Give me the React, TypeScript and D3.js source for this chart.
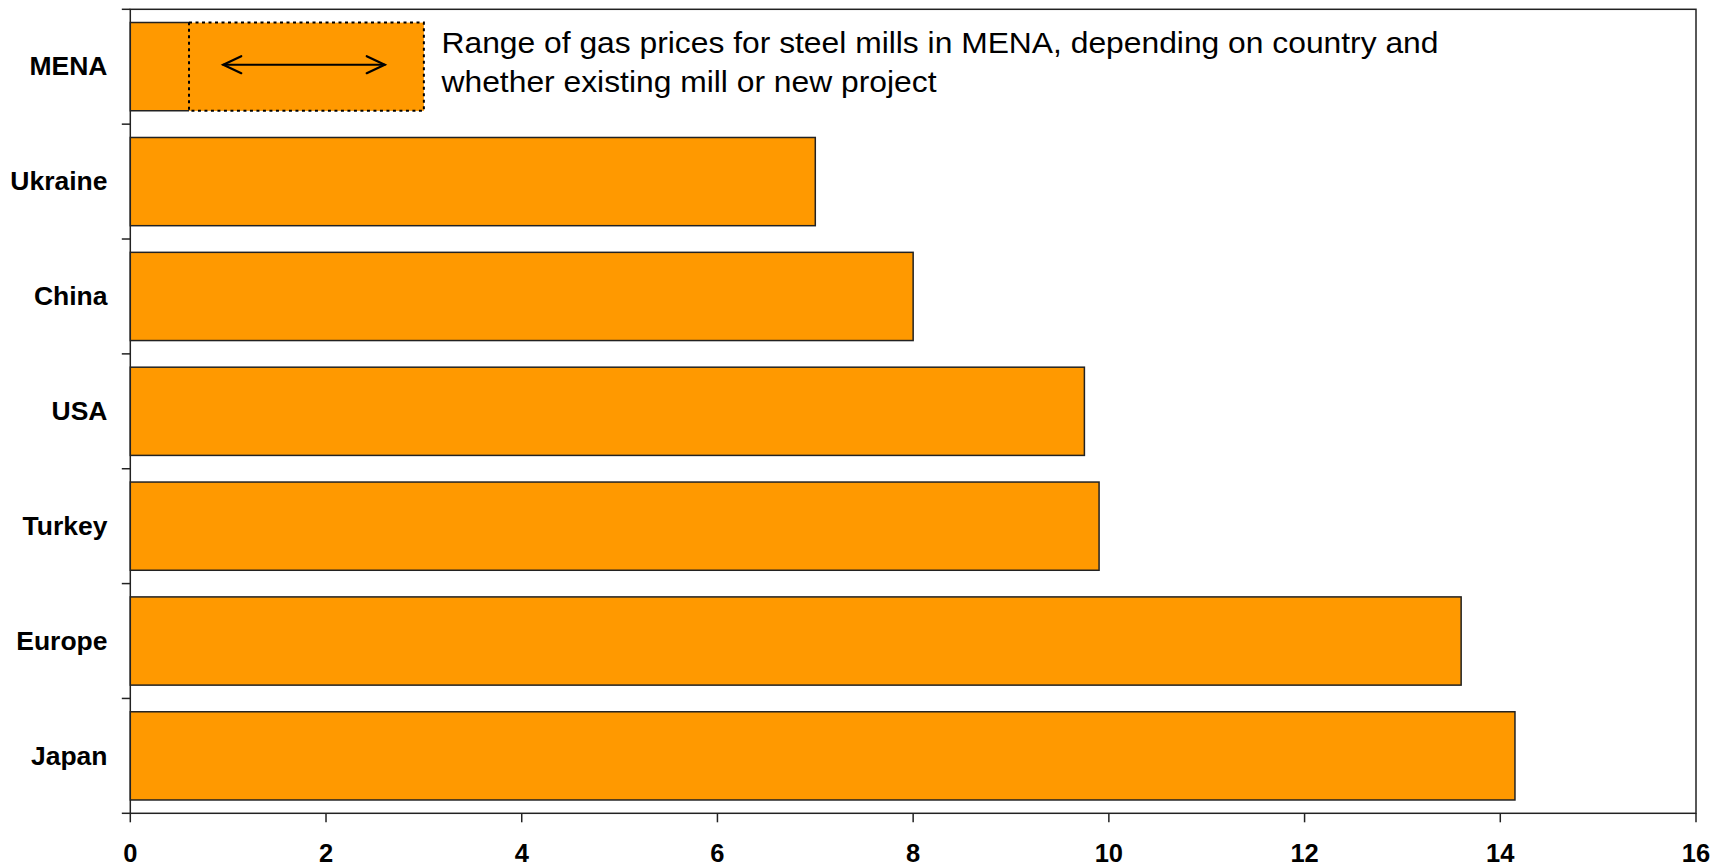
import * as d3 from "d3";

const categories = ["MENA", "Ukraine", "China", "USA", "Turkey", "Europe", "Japan"];
const values = [0.6, 7, 8, 9.75, 9.9, 13.6, 14.15];
// MENA range (dotted box) and the annotation arrow inside it
const menaRange = [0.6, 3.0];
const arrowSpan = [0.95, 2.6];
const xTicks = [0, 2, 4, 6, 8, 10, 12, 14, 16];
const noteLines = [
  "Range of gas prices for steel mills in MENA, depending on country and",
  "whether existing mill or new project",
];
// measured widths of the two note lines in the reference
const noteWidths = [997, 495];

const W = 1723;
const H = 866;
const M = { left: 130.3, right: W - 1696, top: 9.3, bottom: H - 813.3 };
const ORANGE = "#FF9900";
const LINE = "#222";
const FONT = "Arial, 'Liberation Sans', sans-serif";

export default function App() {
  const x = d3.scaleLinear().domain([0, 16]).range([M.left, W - M.right]);
  const y = d3
    .scaleBand<string>()
    .domain(categories)
    .range([M.top, H - M.bottom])
    .paddingInner(0.232)
    .paddingOuter(0.116);
  const step = y.step();
  const bw = y.bandwidth();
  const mY = y("MENA")!;
  const arrowY = mY + bw / 2 - 2;
  const ah = 18; // arrowhead length
  const av = 8.5; // arrowhead half-height

  const boundaries = d3.range(categories.length + 1).map((i) => M.top + i * step);

  return (
    <svg
      width={W}
      height={H}
      viewBox={`0 0 ${W} ${H}`}
      style={{ position: "absolute", left: 0, top: 0, display: "block", background: "#fff" }}
      fontFamily={FONT}
    >
      {/* plot frame */}
      <rect
        x={x(0)}
        y={M.top}
        width={x(16) - x(0)}
        height={H - M.bottom - M.top}
        fill="none"
        stroke={LINE}
        strokeWidth={1.5}
      />

      {/* bars */}
      {categories.map((c, i) =>
        c === "MENA" ? (
          <g key={c}>
            <rect x={x(0)} y={mY} width={x(menaRange[1]) - x(0)} height={bw} fill={ORANGE} />
            <path
              d={`M${x(values[i])},${mY}H${x(0)}V${mY + bw}H${x(values[i])}`}
              fill="none"
              stroke={LINE}
              strokeWidth={1.5}
            />
            <path
              d={`M${x(menaRange[0])},${mY}H${x(menaRange[1])}V${mY + bw}H${x(menaRange[0])}V${mY}`}
              fill="none"
              stroke="#000"
              strokeWidth={2}
              strokeDasharray="3,3.5"
            />
          </g>
        ) : (
          <rect
            key={c}
            x={x(0)}
            y={y(c)}
            width={x(values[i]) - x(0)}
            height={bw}
            fill={ORANGE}
            stroke={LINE}
            strokeWidth={1.5}
          />
        )
      )}

      {/* arrow */}
      <g stroke="#000" strokeWidth={2.2} fill="none" strokeLinecap="round">
        <line x1={x(arrowSpan[0])} x2={x(arrowSpan[1])} y1={arrowY} y2={arrowY} />
        <path
          d={`M${x(arrowSpan[0]) + ah},${arrowY - av}L${x(arrowSpan[0])},${arrowY}L${x(arrowSpan[0]) + ah},${arrowY + av}`}
        />
        <path
          d={`M${x(arrowSpan[1]) - ah},${arrowY - av}L${x(arrowSpan[1])},${arrowY}L${x(arrowSpan[1]) - ah},${arrowY + av}`}
        />
      </g>

      {/* note */}
      {noteLines.map((t, i) => (
        <text
          key={i}
          x={441.5}
          y={53 + i * 38.7}
          fontSize={29}
          fill="#000"
          textLength={noteWidths[i]}
          lengthAdjust="spacingAndGlyphs"
        >
          {t}
        </text>
      ))}

      {/* y ticks at band boundaries */}
      {boundaries.map((b, i) => (
        <line key={i} x1={x(0) - 8.5} x2={x(0)} y1={b} y2={b} stroke={LINE} strokeWidth={1.5} />
      ))}
      {categories.map((c) => (
        <g key={c} transform={`translate(107.5,${y(c)! + bw / 2}) scale(1.06,1)`}>
          <text dy="0.35em" textAnchor="end" fontSize={25} fontWeight="bold" fill="#000">
            {c}
          </text>
        </g>
      ))}

      {/* x ticks */}
      {xTicks.map((t) => (
        <g key={t}>
          <line x1={x(t)} x2={x(t)} y1={H - M.bottom} y2={H - M.bottom + 9} stroke={LINE} strokeWidth={1.5} />
          <text x={x(t)} y={861.5} textAnchor="middle" fontSize={25.5} fontWeight="bold" fill="#000">
            {t}
          </text>
        </g>
      ))}
    </svg>
  );
}
